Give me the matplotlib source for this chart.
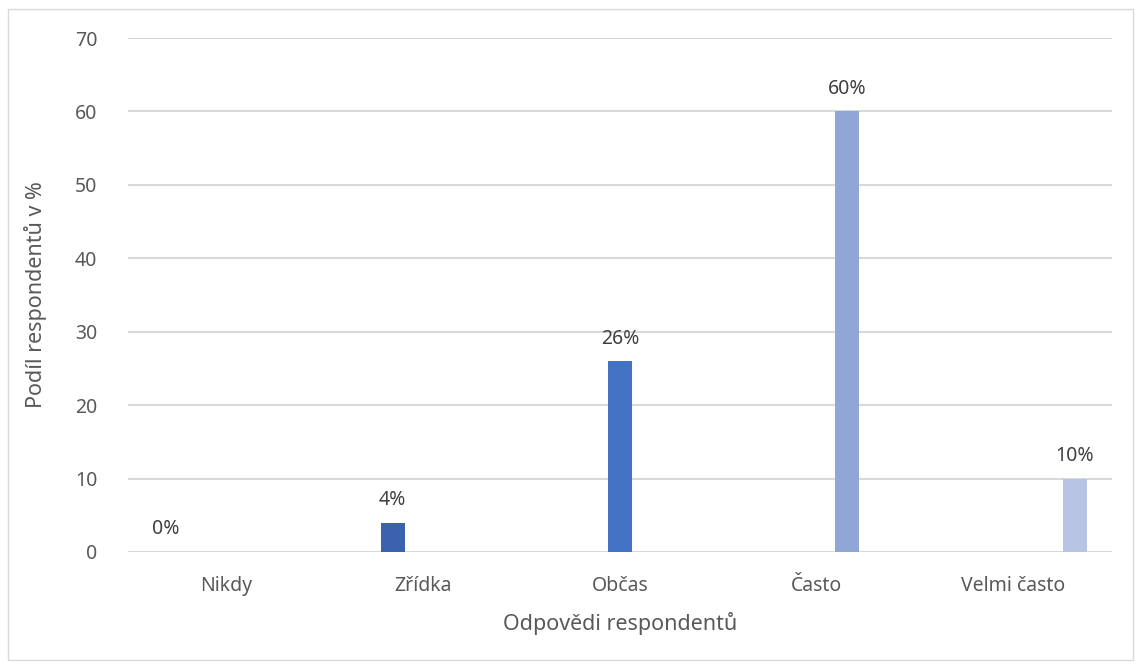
import matplotlib.pyplot as plt
from matplotlib.patches import Rectangle

# data
categories = ['Nikdy', 'Zřídka', 'Občas', 'Často', 'Velmi často']
values = [0, 4, 26, 60, 10]
labels = ['0%', '4%', '26%', '60%', '10%']
colors = ['#2F4F8F', '#3A62AE', '#4472C4', '#8FA6D6', '#B8C4E3']

plt.rcParams['font.family'] = ['Noto Sans', 'DejaVu Sans']

fig = plt.figure(figsize=(11.39, 6.66), dpi=100)
ax = fig.add_axes([0.1124, 0.1712, 0.8639, 0.7717])

# Excel-style clustered bars: each series sits in its own slot
offsets = [-0.31, -0.155, 0.0, 0.155, 0.31]
width = 0.122
for i, (v, c, lab) in enumerate(zip(values, colors, labels)):
    x = i + offsets[i]
    ax.bar(x, v, width=width, color=c, zorder=3)
    ax.annotate(lab, (x, v), xytext=(0, 9), textcoords='offset points',
                ha='center', va='bottom', fontsize=14, color='#404040')

ax.set_xlim(-0.5, 4.5)
ax.set_ylim(0, 70)
ax.set_yticks(range(0, 71, 10))
ax.set_xticks(range(len(categories)))
ax.set_xticklabels(categories)
ax.grid(axis='y', color='#D9D9D9', linewidth=1.5, zorder=0)
ax.tick_params(axis='both', length=0, labelsize=14, labelcolor='#595959')
ax.tick_params(axis='x', pad=17)
ax.tick_params(axis='y', pad=22)
for s in ax.spines.values():
    s.set_visible(False)

ax.set_xlabel('Odpovědi respondentů', fontsize=15.5, color='#595959', labelpad=12)
ax.set_ylabel('Podíl respondentů v %', fontsize=15.5, color='#595959', labelpad=20)

# light frame around the whole chart
fig.patches.append(Rectangle((0.007, 0.009), 0.988, 0.977, transform=fig.transFigure,
                             fill=False, edgecolor='#D9D9D9', linewidth=1))

fig.savefig('out.png', dpi=100)
